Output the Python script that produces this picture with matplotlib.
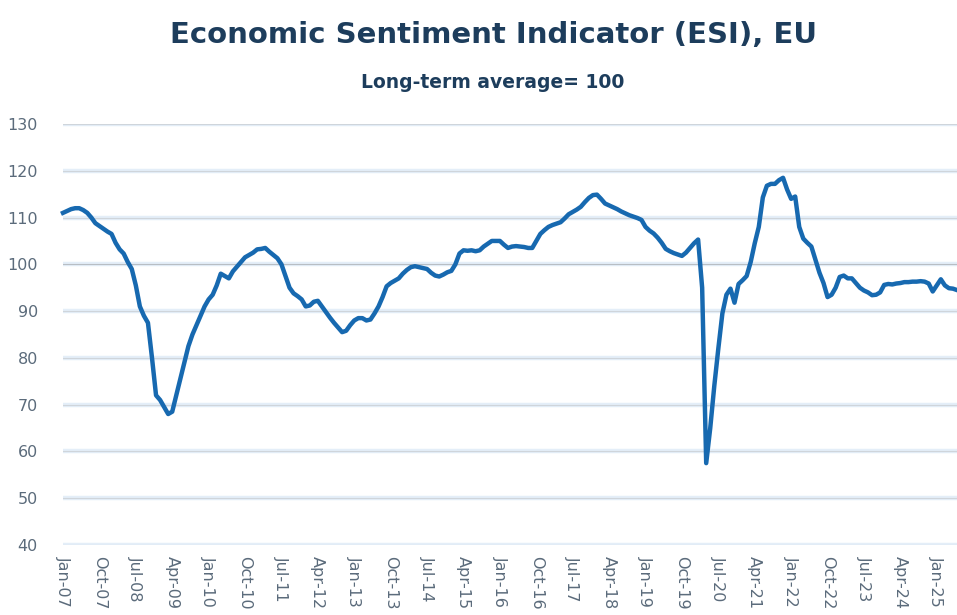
import matplotlib
matplotlib.use("Agg")
import matplotlib.pyplot as plt
import numpy as np

# Monthly ESI values (EU), Jan-2007 onwards
esi_2007 = [111.0, 111.4, 111.8, 112.0, 112.0, 111.6, 111.0, 110.0, 108.8, 108.2, 107.6, 107.0]
esi_2008 = [106.5, 104.6, 103.2, 102.3, 100.5, 99.0, 95.5, 91.0, 89.0, 87.5, 80.0, 72.0]
esi_2009 = [71.0, 69.5, 68.0, 68.5, 72.0, 75.5, 79.0, 82.5, 85.0, 87.0, 89.0, 91.0]
esi_2010 = [92.5, 93.5, 95.5, 98.0, 97.5, 97.0, 98.5, 99.5, 100.5, 101.5, 102.0, 102.5]
esi_2011 = [103.2, 103.3, 103.5, 102.7, 102.0, 101.3, 100.0, 97.5, 95.0, 93.8, 93.2, 92.5]
esi_2012 = [91.0, 91.2, 92.0, 92.2, 91.0, 89.8, 88.6, 87.5, 86.5, 85.5, 85.8, 87.0]
esi_2013 = [88.0, 88.5, 88.5, 88.0, 88.2, 89.5, 91.0, 93.0, 95.3, 96.0, 96.5, 97.0]
esi_2014 = [98.0, 98.8, 99.4, 99.6, 99.4, 99.2, 99.0, 98.2, 97.6, 97.4, 97.8, 98.3]
esi_2015 = [98.6, 100.0, 102.3, 103.0, 102.9, 103.0, 102.8, 103.0, 103.8, 104.4, 105.0, 105.0]
esi_2016 = [105.0, 104.2, 103.5, 103.8, 103.9, 103.8, 103.7, 103.5, 103.5, 105.0, 106.5, 107.3]
esi_2017 = [108.0, 108.4, 108.7, 109.0, 109.8, 110.7, 111.2, 111.7, 112.3, 113.3, 114.2, 114.8]
esi_2018 = [114.9, 114.0, 113.0, 112.6, 112.2, 111.8, 111.3, 110.9, 110.5, 110.2, 109.9, 109.5]
esi_2019 = [108.0, 107.2, 106.6, 105.7, 104.6, 103.3, 102.8, 102.4, 102.1, 101.8, 102.5, 103.5]
esi_2020 = [104.5, 105.3, 95.0, 57.5, 65.0, 74.0, 82.0, 89.5, 93.5, 94.8, 91.8, 95.8]
esi_2021 = [96.6, 97.5, 100.5, 104.5, 108.0, 114.3, 116.8, 117.2, 117.2, 118.0, 118.5, 116.0]
esi_2022 = [114.0, 114.5, 108.0, 105.5, 104.6, 103.8, 101.0, 98.2, 96.0, 93.0, 93.5, 95.0]
esi_2023 = [97.3, 97.6, 97.0, 97.0, 96.0, 95.0, 94.4, 94.0, 93.4, 93.5, 94.0, 95.6]
esi_2024 = [95.8, 95.7, 95.9, 96.0, 96.2, 96.2, 96.3, 96.3, 96.4, 96.3, 95.9, 94.2]
esi_2025 = [95.5, 96.8, 95.5, 94.9, 94.8, 94.5]

tick_labels = ["Jan-07", "Oct-07", "Jul-08", "Apr-09", "Jan-10", "Oct-10", "Jul-11",
               "Apr-12", "Jan-13", "Oct-13", "Jul-14", "Apr-15", "Jan-16", "Oct-16",
               "Jul-17", "Apr-18", "Jan-19", "Oct-19", "Jul-20", "Apr-21", "Jan-22",
               "Oct-22", "Jul-23", "Apr-24", "Jan-25"]
y_ticks = [40, 50, 60, 70, 80, 90, 100, 110, 120, 130]

esi = np.array(esi_2007 + esi_2008 + esi_2009 + esi_2010 + esi_2011 + esi_2012 +
               esi_2013 + esi_2014 + esi_2015 + esi_2016 + esi_2017 + esi_2018 +
               esi_2019 + esi_2020 + esi_2021 + esi_2022 + esi_2023 + esi_2024 + esi_2025)
x = np.arange(len(esi))

W, H = 957, 615
fig = plt.figure(figsize=(W / 100, H / 100), dpi=100)
left = 63 / W
bottom = 1 - 545 / H
top = 1 - 124 / H
ax = fig.add_axes([left, bottom, 1 - left, top - bottom])

for yv in y_ticks:
    ax.axhline(yv, color="#e4eef8", lw=3.2, zorder=1)
    ax.axhline(yv, color="#b8bec4" if yv == 100 else "#cfd5db", lw=0.8, zorder=1.5)

ax.plot(x, esi, color="#1769b0", lw=3.2, solid_joinstyle="round", zorder=3, clip_on=False)

ax.set_xlim(0, 221)
ax.set_ylim(40, 130)
ax.set_yticks(y_ticks)
ax.set_yticklabels([str(v) for v in y_ticks])
ax.set_xticks(np.arange(0, 9 * len(tick_labels), 9))
ax.set_xticklabels(tick_labels, rotation=270, va="top", ha="center")
ax.tick_params(axis="both", length=0, colors="#5b6b7b", labelsize=11.5)
ax.tick_params(axis="y", pad=18)
ax.tick_params(axis="x", pad=8)
for s in ax.spines.values():
    s.set_visible(False)

fig.text(493 / W, 1 - 35 / H, "Economic Sentiment Indicator (ESI), EU",
         ha="center", va="center", fontsize=21, fontweight="bold", color="#1d3d5c")
fig.text(493 / W, 1 - 82 / H, "Long-term average= 100",
         ha="center", va="center", fontsize=13.5, fontweight="bold", color="#1d3d5c")

fig.savefig("out.png", dpi=100)
